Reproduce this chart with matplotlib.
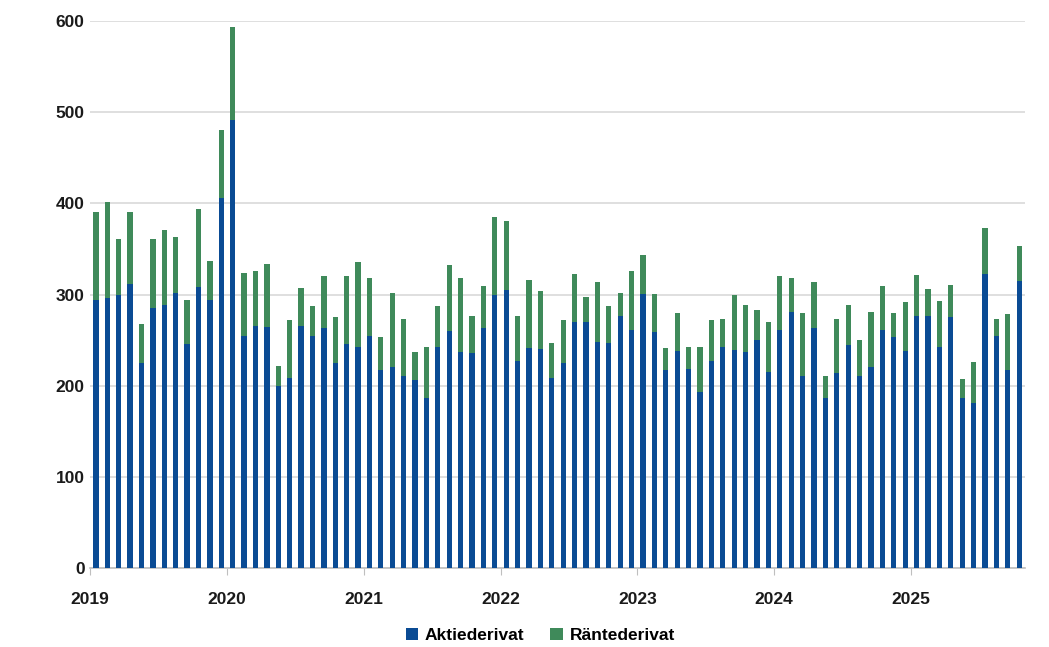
import matplotlib.pyplot as plt
import numpy as np

# monthly values, Jan 2019 - Oct 2025
years = ['2019', '2020', '2021', '2022', '2023', '2024', '2025']

totals = [391, 402, 361, 391, 268, 361, 371, 363, 294, 394, 337, 480,
          593, 324, 326, 334, 222, 272, 307, 287, 320, 275, 320, 336,
          318, 253, 302, 273, 237, 242, 287, 332, 318, 276, 309, 385,
          381, 277, 316, 304, 247, 272, 322, 297, 314, 287, 302, 326,
          343, 301, 241, 280, 242, 242, 272, 273, 300, 289, 283, 270,
          320, 318, 280, 314, 211, 273, 289, 250, 281, 309, 280, 292,
          321, 306, 293, 310, 207, 226, 373, 273, 279, 353]

aktie = [294, 296, 299, 312, 225, 285, 289, 302, 246, 308, 294, 406,
         491, 254, 266, 264, 200, 209, 266, 254, 263, 225, 246, 243,
         254, 217, 221, 211, 206, 186, 243, 260, 237, 236, 263, 300,
         305, 227, 241, 240, 209, 225, 270, 270, 248, 247, 276, 261,
         301, 259, 217, 238, 218, 193, 227, 243, 239, 237, 250, 215,
         261, 281, 211, 263, 186, 214, 245, 211, 221, 261, 253, 238,
         277, 277, 243, 275, 186, 181, 322, 254, 217, 315]

rante = [t - a for t, a in zip(totals, aktie)]

blue = '#0a4b94'
green = '#3f8a5a'

plt.rcParams['font.family'] = ['Liberation Sans', 'DejaVu Sans']

fig = plt.figure(figsize=(10.49, 6.47), dpi=100)
ax = fig.add_axes([0.086, 0.122, 0.891, 0.8455])

x = np.arange(len(totals))
ax.bar(x, aktie, width=0.46, color=blue, label='Aktiederivat', zorder=3)
ax.bar(x, rante, width=0.46, bottom=aktie, color=green, label='Räntederivat', zorder=3)

ax.set_xticks(np.arange(len(years)) * 12 - 0.5)
ax.set_xticklabels(years)
ax.set_xlim(-0.5, len(totals) - 0.5)
ax.set_ylim(0, 600)
ax.set_yticks(range(0, 601, 100))
ax.yaxis.grid(True, color='#d9d9d9', linewidth=1.2, zorder=0)

ax.tick_params(axis='x', length=5, color='#bfbfbf', pad=12)
ax.tick_params(axis='y', length=0, pad=4)

for lbl in ax.get_xticklabels() + ax.get_yticklabels():
    lbl.set_fontsize(12.5)
    lbl.set_fontweight('bold')
    lbl.set_color('#1a1a1a')

for s in ['top', 'right', 'left']:
    ax.spines[s].set_visible(False)
ax.spines['bottom'].set_color('#bfbfbf')
ax.spines['bottom'].set_linewidth(1.2)

fig.legend(loc='center', bbox_to_anchor=(0.515, 0.018), ncol=2, frameon=False,
           handlelength=0.7, handleheight=0.7, handletextpad=0.4, columnspacing=1.5,
           prop={'size': 12.5, 'weight': 'bold'})

fig.savefig('out.png', dpi=100)
